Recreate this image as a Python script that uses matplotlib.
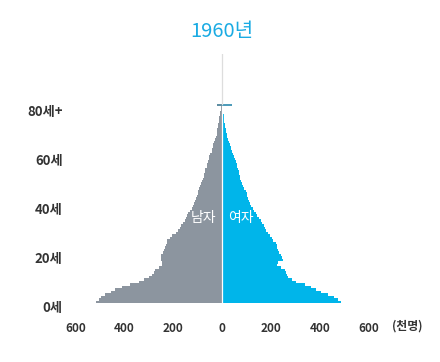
import matplotlib
matplotlib.use("Agg")
import matplotlib.pyplot as plt
import numpy as np

plt.rcParams['font.family'] = ['Noto Sans CJK KR', 'DejaVu Sans']

title = "1960년"
ages = list(range(0, 80))
male = [515, 505, 495, 478, 455, 437, 410, 375, 340, 318,
        300, 285, 278, 273, 260, 247, 245, 250, 250, 250,
        240, 237, 235, 228, 225, 225, 215, 204, 190, 180,
        172, 168, 160, 152, 148, 142, 138, 130, 124, 120,
        115, 112, 105, 102, 100, 98, 93, 90, 88, 84,
        78, 75, 73, 71, 68, 63, 60, 57, 55, 52,
        48, 42, 40, 37, 35, 32, 28, 25, 22, 20,
        19, 17, 15, 13, 12, 11, 10, 8, 6, 5]
female = [489, 475, 460, 434, 405, 385, 366, 340, 305, 285,
          270, 265, 260, 257, 240, 225, 230, 250, 245, 240,
          232, 230, 226, 224, 220, 210, 204, 195, 189, 182,
          175, 170, 165, 160, 150, 145, 138, 132, 128, 120,
          114, 110, 106, 104, 101, 98, 92, 87, 83, 78,
          75, 73, 70, 69, 66, 62, 60, 57, 53, 50,
          46, 41, 38, 35, 33, 28, 25, 22, 20, 18,
          16, 13, 11, 10, 9, 8, 7, 6, 5, 4]
male_80plus = 20
female_80plus = 40
y_tick_ages = [0, 20, 40, 60, 80]
y_tick_labels = ["0세", "20세", "40세", "60세", "80세+"]
x_ticks = [-600, -400, -200, 0, 200, 400, 600]
x_tick_labels = ["600", "400", "200", "0", "200", "400", "600"]
unit_label = "(천명)"
male_label = "남자"
female_label = "여자"

male_color = '#8c959f'
female_color = '#00b5ea'
title_color = '#1aabe3'
text_color = '#333333'

fig = plt.figure(figsize=(4.4, 3.62), dpi=100)
ax = fig.add_axes([0.1439, 0.1425, 0.7214, 0.707])
ax.set_xlim(-650, 650)
ax.set_ylim(-3, 101)

ax.barh(ages, [-m for m in male], height=1.0, align='edge', color=male_color, linewidth=0)
ax.barh(ages, female, height=1.0, align='edge', color=female_color, linewidth=0)
ax.barh([80.2], [-male_80plus], height=0.6, align='edge', color='#5f8ea3', linewidth=0)
ax.barh([80.2], [female_80plus], height=0.6, align='edge', color='#4f9cba', linewidth=0)

ax.plot([0, 0], [0, 80.2], color='white', lw=0.9, zorder=3)
ax.plot([0, 0], [80.8, 101], color='#dddddd', lw=0.9, zorder=3)

for s in ax.spines.values():
    s.set_visible(False)

ax.set_xticks(x_ticks)
ax.set_xticklabels(x_tick_labels, fontsize=8.5, fontweight='bold', color=text_color)
ax.set_yticks([a - 1.6 for a in y_tick_ages])
ax.set_yticklabels(y_tick_labels, fontsize=9.5, fontweight='semibold', color=text_color)
ax.tick_params(axis='y', length=0, pad=0.5)
ax.tick_params(axis='x', length=0, pad=8)

ax.text(-22, 34.5, male_label, color='white', fontsize=10, ha='right', va='center')
ax.text(24, 34.5, female_label, color='white', fontsize=10, ha='left', va='center')
ax.text(760, -9.3, unit_label, color=text_color, fontsize=8.5, ha='center', va='center',
        fontweight='bold', clip_on=False)

fig.text(222 / 440, 1 - 31 / 362, title, color=title_color, fontsize=14.5, ha='center', va='center')

fig.savefig('out.png', dpi=100, facecolor='white')
